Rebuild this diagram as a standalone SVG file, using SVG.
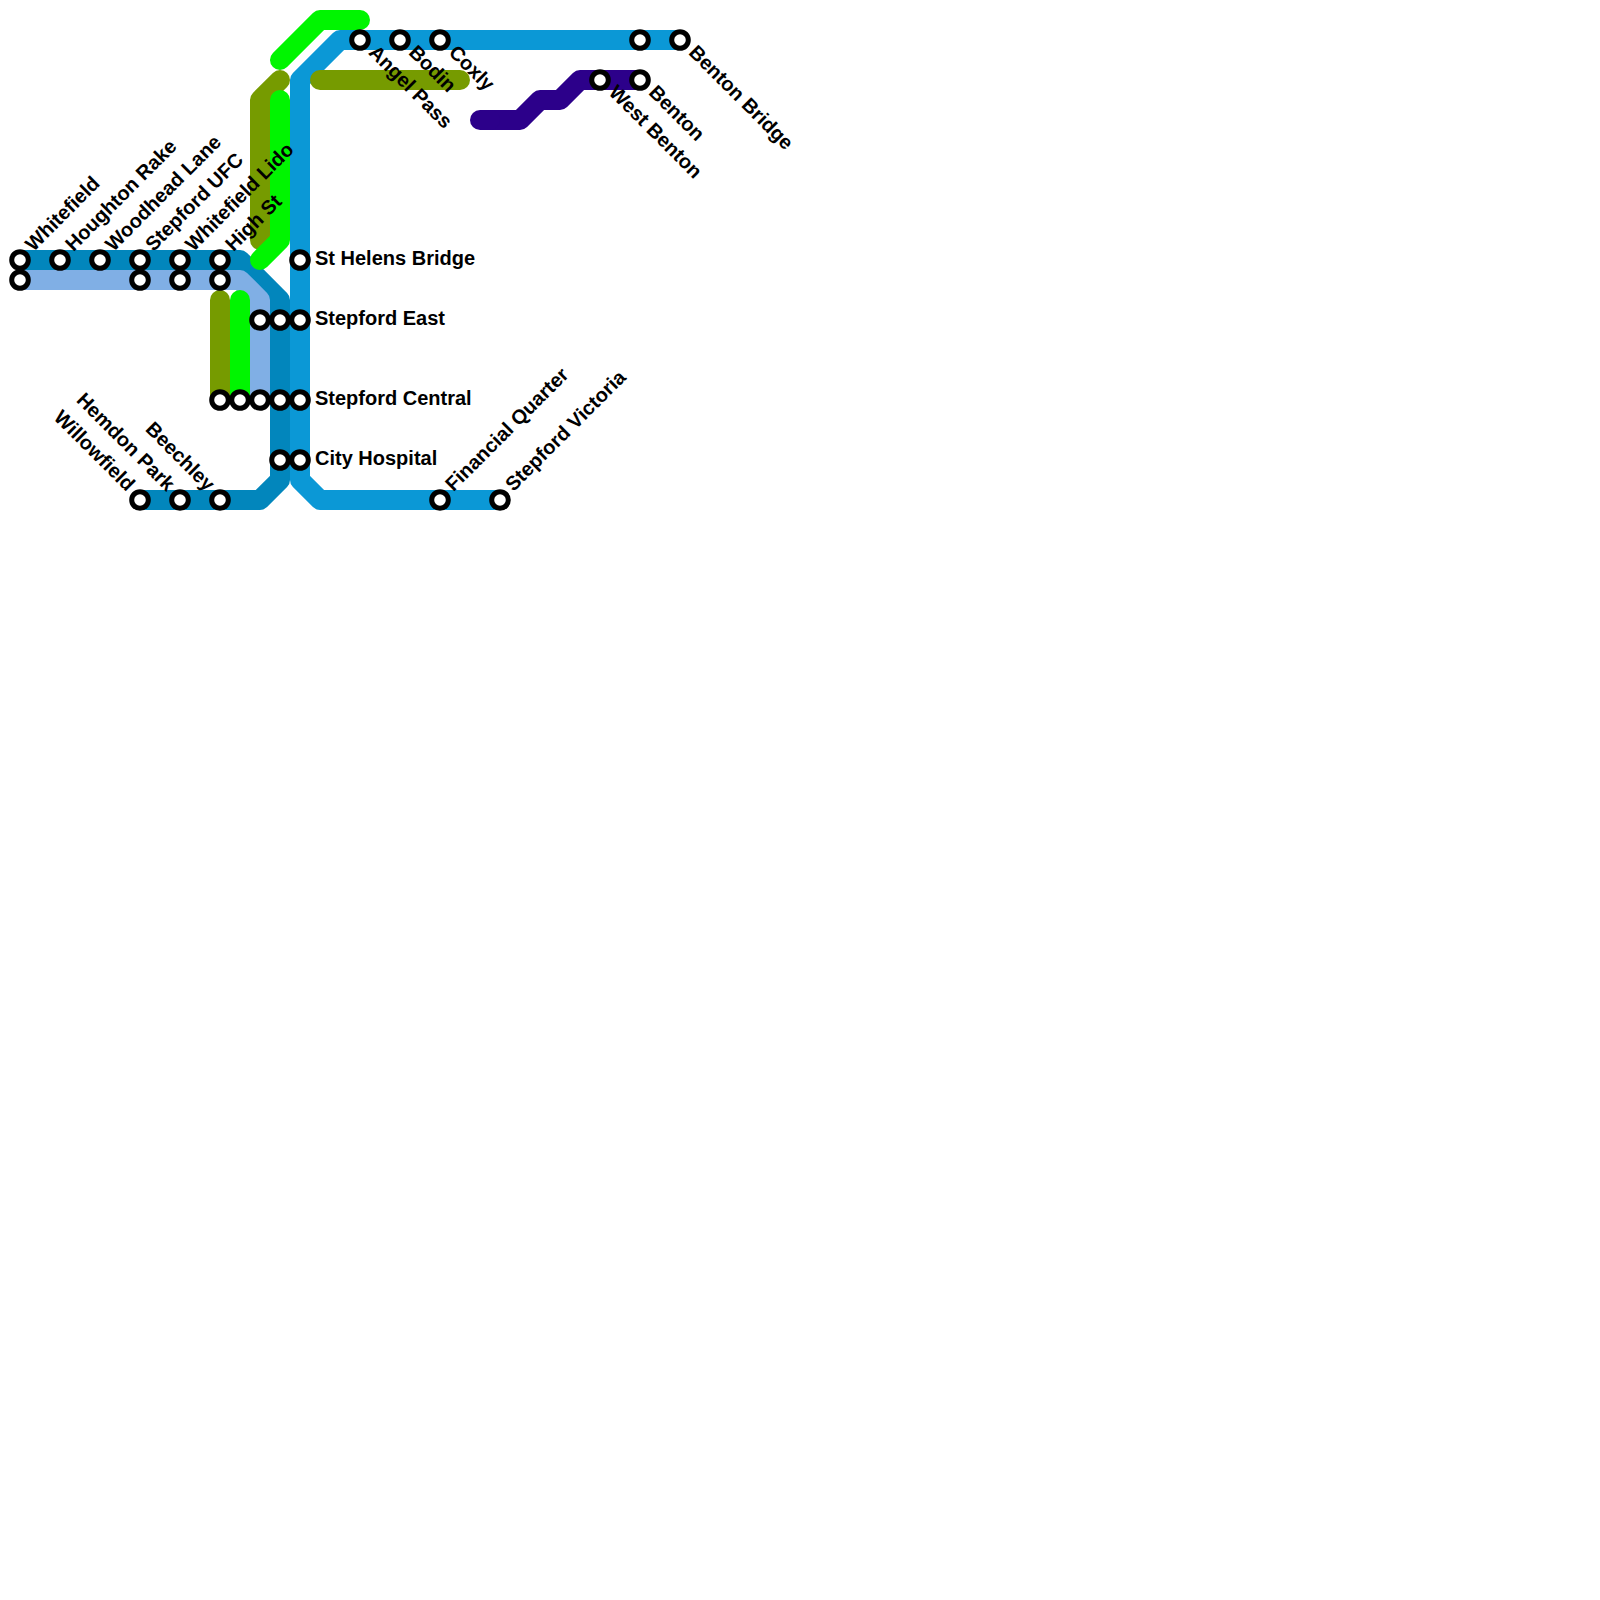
<svg xmlns="http://www.w3.org/2000/svg" width="1600" height="1600" viewBox="0 0 1600 1600">
<style>
.ln{fill:none;stroke-width:20;stroke-linejoin:round;stroke-linecap:butt}
.rc{stroke-linecap:round}
.cyan{stroke:#0b98d6}
.dblue{stroke:#0286bc}
.lblue{stroke:#80afe5}
.olive{stroke:#769b00}
.green{stroke:#00f500}
.purple{stroke:#2c008a}
.st{fill:#ffffff;stroke:#000000;stroke-width:5}
text{font-family:"Liberation Sans",Arial,sans-serif;font-weight:bold;font-size:20px;fill:#000000}
.end{text-anchor:end}
</style>
<rect width="1600" height="1600" fill="#ffffff"/>
<g id="connectors">
<path class="ln cyan" d="M680 40 H340 L300 80 V480 L320 500 H500"/>
<path class="ln dblue" d="M20 260 H240 L280 300 V480 L260 500 H140"/>
<path class="ln lblue" d="M20 280 H240 L260 300 V400"/>
<path class="ln olive rc" d="M220 300 V400"/>
<path class="ln olive rc" d="M260 240 V100 L280 80"/>
<path class="ln olive rc" d="M320 80 H460"/>
<path class="ln green rc" d="M240 300 V400"/>
<path class="ln green rc" d="M260 260 L280 240 V100"/>
<path class="ln green rc" d="M280 60 L320 20 H360"/>
<path class="ln purple" d="M480 120 H520 L540 100 H560 L580 80 H640"/>
<path class="ln purple rc" d="M480 120 H490"/>
</g>
<g id="whitefield"><circle class="st" cx="20" cy="260" r="8.3"/><circle class="st" cx="20" cy="280" r="8.3"/><text transform="translate(20,260) rotate(-45)" x="15" y="4">Whitefield</text></g>
<g id="houghton-rake"><circle class="st" cx="60" cy="260" r="8.3"/><text transform="translate(60,260) rotate(-45)" x="15" y="4">Houghton Rake</text></g>
<g id="woodhead-lane"><circle class="st" cx="100" cy="260" r="8.3"/><text transform="translate(100,260) rotate(-45)" x="15" y="4">Woodhead Lane</text></g>
<g id="stepford-ufc"><circle class="st" cx="140" cy="260" r="8.3"/><circle class="st" cx="140" cy="280" r="8.3"/><text transform="translate(140,260) rotate(-45)" x="15" y="4">Stepford UFC</text></g>
<g id="whitefield-lido"><circle class="st" cx="180" cy="260" r="8.3"/><circle class="st" cx="180" cy="280" r="8.3"/><text transform="translate(180,260) rotate(-45)" x="15" y="4">Whitefield Lido</text></g>
<g id="high-st"><circle class="st" cx="220" cy="260" r="8.3"/><circle class="st" cx="220" cy="280" r="8.3"/><text transform="translate(220,260) rotate(-45)" x="15" y="4">High St</text></g>
<g id="st-helens-bridge"><circle class="st" cx="300" cy="260" r="8.3"/><text x="315" y="265">St Helens Bridge</text></g>
<g id="stepford-east"><circle class="st" cx="260" cy="320" r="8.3"/><circle class="st" cx="280" cy="320" r="8.3"/><circle class="st" cx="300" cy="320" r="8.3"/><text x="315" y="325">Stepford East</text></g>
<g id="stepford-central"><circle class="st" cx="220" cy="400" r="8.3"/><circle class="st" cx="240" cy="400" r="8.3"/><circle class="st" cx="260" cy="400" r="8.3"/><circle class="st" cx="280" cy="400" r="8.3"/><circle class="st" cx="300" cy="400" r="8.3"/><text x="315" y="405">Stepford Central</text></g>
<g id="city-hospital"><circle class="st" cx="280" cy="460" r="8.3"/><circle class="st" cx="300" cy="460" r="8.3"/><text x="315" y="465">City Hospital</text></g>
<g id="willowfield"><circle class="st" cx="140" cy="500" r="8.3"/><text class="end" transform="translate(140,500) rotate(45)" x="-15" y="4">Willowfield</text></g>
<g id="hemdon-park"><circle class="st" cx="180" cy="500" r="8.3"/><text class="end" transform="translate(180,500) rotate(45)" x="-15" y="4">Hemdon Park</text></g>
<g id="beechley"><circle class="st" cx="220" cy="500" r="8.3"/><text class="end" transform="translate(220,500) rotate(45)" x="-15" y="4">Beechley</text></g>
<g id="financial-quarter"><circle class="st" cx="440" cy="500" r="8.3"/><text transform="translate(440,500) rotate(-45)" x="15" y="4">Financial Quarter</text></g>
<g id="stepford-victoria"><circle class="st" cx="500" cy="500" r="8.3"/><text transform="translate(500,500) rotate(-45)" x="15" y="4">Stepford Victoria</text></g>
<g id="angel-pass"><circle class="st" cx="360" cy="40" r="8.3"/><text transform="translate(360,40) rotate(45)" x="15" y="4">Angel Pass</text></g>
<g id="bodin"><circle class="st" cx="400" cy="40" r="8.3"/><text transform="translate(400,40) rotate(45)" x="15" y="4">Bodin</text></g>
<g id="coxly"><circle class="st" cx="440" cy="40" r="8.3"/><text transform="translate(440,40) rotate(45)" x="15" y="4">Coxly</text></g>
<g id="west-benton"><circle class="st" cx="600" cy="80" r="8.3"/><text transform="translate(600,80) rotate(45)" x="15" y="4">West Benton</text></g>
<g id="benton"><circle class="st" cx="640" cy="40" r="8.3"/><circle class="st" cx="640" cy="80" r="8.3"/><text transform="translate(640,80) rotate(45)" x="15" y="4">Benton</text></g>
<g id="benton-bridge"><circle class="st" cx="680" cy="40" r="8.3"/><text transform="translate(680,40) rotate(45)" x="15" y="4">Benton Bridge</text></g>
</svg>
